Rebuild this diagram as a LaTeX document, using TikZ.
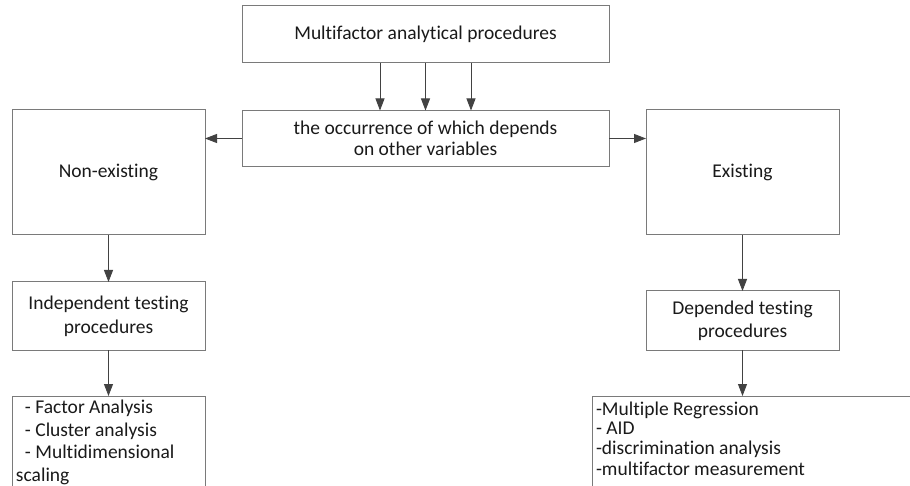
\documentclass[tikz,border=0pt]{standalone}
\usepackage{fontspec}
\setmainfont{Carlito}[Ligatures={NoCommon}]
\usetikzlibrary{arrows.meta}
\definecolor{boxline}{HTML}{7A7A7A}
\definecolor{arrowline}{HTML}{424242}
\definecolor{ink}{HTML}{1A1A1A}
\begin{document}
\begin{tikzpicture}[x=1pt,y=-1pt,
  box/.style={draw=boxline,line width=1pt,inner sep=0pt,outer sep=0pt,
    text=ink,align=center,font=\fontsize{19.5}{23}\selectfont},
  listtext/.style={inner sep=0pt,outer sep=0pt,anchor=north west,align=left,text=ink},
  arr/.style={draw=arrowline,line width=0.9pt,-{Triangle[length=12pt,width=9pt]}}]
  \useasboundingbox (0,0) rectangle (910,486);
  \clip (0,0) rectangle (910,486);
  \fill[white] (0,0) rectangle (910,486);

  % upper row
  \node[box,minimum width=367pt,minimum height=57pt] (top) at (425.5,34.5)
    {Multifactor analytical procedures};
  \node[box,minimum width=367pt,minimum height=56pt,font=\fontsize{19.5}{21}\selectfont] (mid) at (425.5,138.5)
    {the occurrence of which depends\\on other variables};
  \node[box,minimum width=193pt,minimum height=125pt] (nonex) at (108.5,172.5) {Non-existing};
  \node[box,minimum width=193pt,minimum height=125pt] (exist) at (742.5,172.5) {Existing};

  % testing procedures
  \node[box,minimum width=193pt,minimum height=68pt,font=\fontsize{19.5}{24}\selectfont] (indep) at (108.5,316)
    {Independent testing\\procedures};
  \node[box,minimum width=193pt,minimum height=59pt,font=\fontsize{19.5}{23}\selectfont] (dep) at (742.5,320.5)
    {Depended testing\\procedures};

  % method lists (running past the lower edge)
  \node[box,minimum width=193pt,minimum height=110pt,anchor=north west] (llist) at (12,396) {};
  \node[box,minimum width=330pt,minimum height=110pt,anchor=north west] (rlist) at (592,396) {};
  \node[listtext,font=\fontsize{19.5}{22.5}\selectfont] (ltext) at (16,397.75)
    {\strut\hspace*{9pt}- Factor Analysis\\
     \strut\hspace*{9pt}- Cluster analysis\\
     \strut\hspace*{9pt}- Multidimensional\\
     \strut scaling};
  \node[listtext,font=\fontsize{19.5}{19}\selectfont] (rtext) at (596,402.2)
    {\strut -Multiple Regression\\
     \strut - AID\\
     \strut -discrimination analysis\\
     \strut -multifactor measurement};

  % connectors
  \draw[arr] ([xshift=-45.5pt]top.south) -- ([xshift=-45.5pt]mid.north);
  \draw[arr] (top.south) -- (mid.north);
  \draw[arr] ([xshift=45.5pt]top.south) -- ([xshift=45.5pt]mid.north);
  \draw[arr] (mid.west) -- (mid.west -| nonex.east);
  \draw[arr] (mid.east) -- (mid.east -| exist.west);
  \draw[arr] (nonex.south) -- (indep.north);
  \draw[arr] (indep.south) -- (indep.south |- llist.north);
  \draw[arr] (exist.south) -- (dep.north);
  \draw[arr] (dep.south) -- (dep.south |- rlist.north);
\end{tikzpicture}
\end{document}
